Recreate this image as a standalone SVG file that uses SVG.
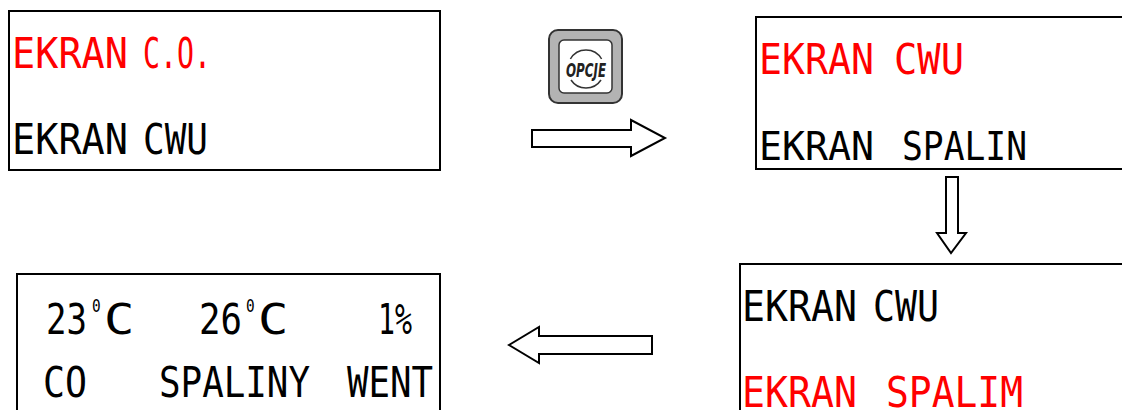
<svg xmlns="http://www.w3.org/2000/svg" width="1122" height="410" viewBox="0 0 1122 410">
<style>
.box{fill:#fff;stroke:#000;stroke-width:2}
.lcd{font-family:"DejaVu Sans Mono","Liberation Mono",monospace;font-size:42px}
.red{fill:#ff0000}
.blk{fill:#000}
.arrow{fill:#fff;stroke:#000;stroke-width:2;stroke-linejoin:miter}
.deg{font-family:"DejaVu Sans Mono","Liberation Mono",monospace;font-size:18px;fill:#000}
.arc{fill:none;stroke:#333;stroke-width:1.5}
</style>
<rect width="1122" height="410" fill="#fff"/>
<g id="screen-co">
<rect class="box" x="9" y="11" width="431" height="159"/>
<text class="lcd red" x="12" y="68" textLength="116" lengthAdjust="spacingAndGlyphs">EKRAN</text>
<text class="lcd red" x="143" y="68" textLength="68" lengthAdjust="spacingAndGlyphs">C.O.</text>
<text class="lcd blk" x="12" y="154" textLength="116" lengthAdjust="spacingAndGlyphs">EKRAN</text>
<text class="lcd blk" x="143" y="154" textLength="65" lengthAdjust="spacingAndGlyphs">CWU</text>
</g>
<g id="opcje-button">
<rect x="549" y="30" width="73" height="73" rx="9" fill="#b3b3b3" stroke="#333" stroke-width="2"/>
<rect x="559" y="40" width="53" height="53" rx="5" fill="#fff" stroke="#333" stroke-width="1.5"/>
<path class="arc" d="M570.4,59 A18,18 0 0 1 601.6,59"/>
<path class="arc" d="M571,80 A18,18 0 0 0 601,80"/>
<text x="586" y="77" text-anchor="middle" font-family="'DejaVu Sans','Liberation Sans',sans-serif" font-style="italic" font-weight="bold" font-size="19" textLength="40" lengthAdjust="spacingAndGlyphs" fill="#222">OPCJE</text>
</g>
<g id="screen-cwu">
<rect class="box" x="756" y="17" width="370" height="152"/>
<text class="lcd red" x="759" y="74" textLength="115" lengthAdjust="spacingAndGlyphs">EKRAN</text>
<text class="lcd red" x="894" y="74" textLength="70" lengthAdjust="spacingAndGlyphs">CWU</text>
<text class="lcd blk" x="759" y="160" textLength="115" lengthAdjust="spacingAndGlyphs" style="font-size:39px">EKRAN</text>
<text class="lcd blk" x="902" y="160" textLength="125" lengthAdjust="spacingAndGlyphs" style="font-size:39px">SPALIN</text>
</g>
<g id="screen-spalin">
<rect class="box" x="740" y="264" width="386" height="150"/>
<text class="lcd blk" x="742" y="321" textLength="115" lengthAdjust="spacingAndGlyphs">EKRAN</text>
<text class="lcd blk" x="873" y="321" textLength="66" lengthAdjust="spacingAndGlyphs">CWU</text>
<text class="lcd red" x="742" y="407" textLength="115" lengthAdjust="spacingAndGlyphs">EKRAN</text>
<text class="lcd red" x="886" y="407" textLength="137" lengthAdjust="spacingAndGlyphs">SPALIM</text>
</g>
<g id="screen-readout">
<rect class="box" x="17" y="274" width="423" height="140"/>
<text class="lcd blk" transform="translate(46,334) scale(0.81,1)">23</text>
<text class="deg" transform="translate(92,312) scale(0.8,1)">0</text>
<text class="lcd blk" transform="translate(104,334) scale(1.2,1)">C</text>
<text class="lcd blk" transform="translate(199,334) scale(0.85,1)">26</text>
<text class="deg" transform="translate(246,312) scale(0.8,1)">0</text>
<text class="lcd blk" transform="translate(258,334) scale(1.2,1)">C</text>
<text class="lcd blk" x="378" y="334" textLength="34" lengthAdjust="spacingAndGlyphs">1%</text>
<text class="lcd blk" x="43" y="397" textLength="44" lengthAdjust="spacingAndGlyphs">CO</text>
<text class="lcd blk" x="159" y="397" textLength="151" lengthAdjust="spacingAndGlyphs">SPALINY</text>
<text class="lcd blk" x="347" y="397" textLength="86" lengthAdjust="spacingAndGlyphs">WENT</text>
</g>
<g id="connectors">
<polygon class="arrow" points="532,130 631,130 631,120 665,138 631,156 631,147 532,147"/>
<polygon class="arrow" points="946,177 958,177 958,233 966,233 951,253 937,233 946,233"/>
<polygon class="arrow" points="652,336 539,336 539,327 509,345 539,363 539,354 652,354"/>
</g>
</svg>
